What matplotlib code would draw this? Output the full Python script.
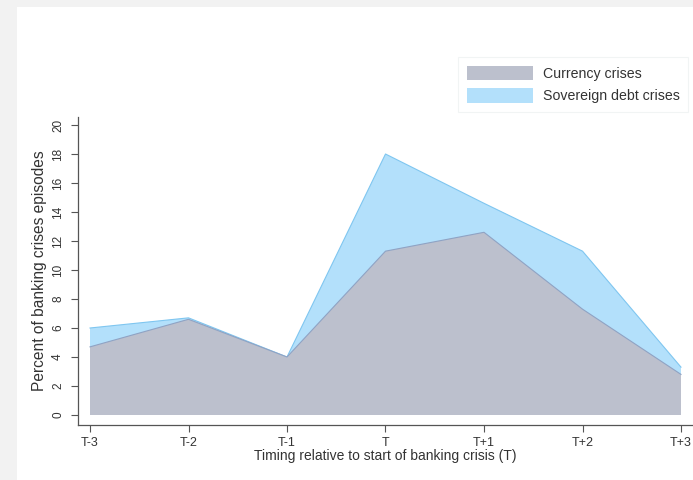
import matplotlib
matplotlib.use("Agg")
import matplotlib.pyplot as plt
from matplotlib.patches import Rectangle

# Share of banking crisis episodes accompanied by other crises, by timing
periods = ["T-3", "T-2", "T-1", "T", "T+1", "T+2", "T+3"]
currency = [4.7, 6.6, 4.0, 11.3, 12.6, 7.3, 2.8]
sovereign = [6.0, 6.7, 4.0, 18.0, 14.6, 11.3, 3.3]
yticks = [0, 2, 4, 6, 8, 10, 12, 14, 16, 18, 20]

plt.rcParams["font.family"] = ["Liberation Sans", "DejaVu Sans"]

W, H = 693, 480
fig = plt.figure(figsize=(W / 100, H / 100), dpi=100)
fig.patch.set_facecolor("#f2f2f2")
# white graph region
fig.patches.append(Rectangle((17 / W, 0), 1, 1 - 7 / H, transform=fig.transFigure,
                             facecolor="white", edgecolor="none", zorder=-10))

ax = fig.add_axes([78 / W, 1 - 425 / H, 614 / W, 308 / H])
ax.set_facecolor("none")
ax.set_zorder(1)

x = list(range(len(periods)))
c_sov_fill, c_sov_edge = "#b3e0fb", "#7fc6f0"
c_cur_fill, c_cur_edge = "#bcc0cd", "#8fa3c4"

ax.fill_between(x, 0, sovereign, facecolor=c_sov_fill, edgecolor="none", zorder=1,
                label="Sovereign debt crises")
ax.plot(x, sovereign, color=c_sov_edge, lw=0.8, zorder=1.5)
ax.fill_between(x, 0, currency, facecolor=c_cur_fill, edgecolor="none", zorder=2,
                label="Currency crises")
ax.plot(x, currency, color=c_cur_edge, lw=0.8, zorder=2.5)

ax.set_xlim(-12 / 98.5, 6 + 11 / 98.5)
ax.set_ylim(-10 / 14.5, 298 / 14.5)

ax.set_xticks(x)
ax.set_xticklabels(periods)
ax.set_yticks(yticks)
ax.set_yticklabels([str(v) for v in yticks], rotation=90, va="center")

for side in ("top", "right"):
    ax.spines[side].set_visible(False)
for side in ("left", "bottom"):
    ax.spines[side].set_color("#555555")
    ax.spines[side].set_linewidth(0.9)

ax.tick_params(axis="x", length=5, width=0.8, color="#555555", pad=3.5,
               labelsize=9, labelcolor="#333333")
ax.tick_params(axis="y", length=5, width=0.8, color="#555555", pad=5,
               labelsize=8.5, labelcolor="#333333")

ax.set_xlabel("Timing relative to start of banking crisis (T)", fontsize=10,
              color="#333333", labelpad=0)
ax.set_ylabel("Percent of banking crises episodes", fontsize=11.2,
              color="#333333", labelpad=4)

handles, labels = ax.get_legend_handles_labels()
leg = fig.legend(handles[::-1], labels[::-1], loc="upper right",
                 bbox_to_anchor=(688 / W, 1 - 57 / H), borderaxespad=0,
                 fontsize=10.2, frameon=True, fancybox=False,
                 handlelength=4.7, handleheight=1.2, handletextpad=0.65,
                 labelspacing=0.55, borderpad=0.6, labelcolor="#333333")
leg.get_frame().set_edgecolor("#eef2f2")
leg.get_frame().set_linewidth(0.8)

fig.savefig("out.png", dpi=100, facecolor=fig.get_facecolor())
